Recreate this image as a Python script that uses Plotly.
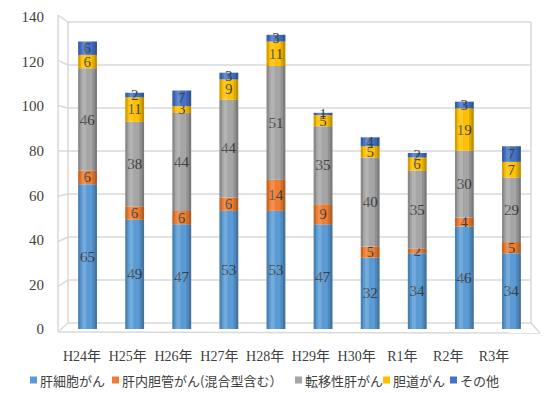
import plotly.graph_objects as go

years = ["H24年", "H25年", "H26年", "H27年", "H28年", "H29年", "H30年", "R1年", "R2年", "R3年"]
hcc = [65, 49, 47, 53, 53, 47, 32, 34, 46, 34]
icc = [6, 6, 6, 6, 14, 9, 5, 2, 4, 5]
meta = [46, 38, 44, 44, 51, 35, 40, 35, 30, 29]
biliary = [6, 11, 3, 9, 11, 5, 5, 6, 19, 7]
other = [6, 2, 7, 3, 3, 1, 4, 2, 3, 7]
y_ticks = [0, 20, 40, 60, 80, 100, 120, 140]

series_names = ["肝細胞がん", "肝内胆管がん(混合型含む）", "転移性肝がん", "胆道がん", "その他"]
series_values = [hcc, icc, meta, biliary, other]
series_colors = ["#5B9BD5", "#ED7D31", "#A5A5A5", "#FFC000", "#4472C4"]

W, H = 544, 393
L, R, T, B = 64, 9, 17, 64
PW, PH = W - L - R, H - T - B
BAR_W = 0.4

def px(x):
    return (x - L) / PW

def py(y):
    return (H - B - y) / PH

fig = go.Figure()
base = [0] * len(years)
for name, vals, col in zip(series_names, series_values, series_colors):
    fig.add_trace(go.Bar(
        x=years, y=vals, base=list(base), name=name,
        width=BAR_W, offset=-BAR_W / 2,
        marker=dict(color=col, line=dict(width=0)),
        text=vals, textposition="inside", insidetextanchor="middle",
        constraintext="none", textangle=0,
        textfont=dict(family="Liberation Serif, serif", size=15, color="#404040"),
        hoverinfo="skip", showlegend=False,
    ))
    base = [b + v for b, v in zip(base, vals)]
totals = base

# cylinder-like shading strips over each stack
for off, w, col in [(-BAR_W / 2, 0.05, "rgba(0,0,0,0.16)"),
                    (-BAR_W / 2 + 0.09, 0.08, "rgba(255,255,255,0.16)"),
                    (BAR_W / 2 - 0.1, 0.05, "rgba(0,0,0,0.12)"),
                    (BAR_W / 2 - 0.05, 0.05, "rgba(0,0,0,0.25)")]:
    fig.add_trace(go.Bar(x=years, y=totals, base=[0] * len(years), width=w, offset=off,
                         marker=dict(color=col, line=dict(width=0)),
                         hoverinfo="skip", showlegend=False))

# empty helper trace so the label axis exists
fig.add_trace(go.Scatter(x=[], y=[], xaxis="x2", yaxis="y", showlegend=False, hoverinfo="skip"))

# 3D-like frame (walls / gridlines)
shapes = []
lc = dict(color="#D9D9D9", width=1.5)
for v in y_ticks:
    yb = 323 - 2.15 * v
    yf = 332 - 2.264 * v
    shapes.append(dict(type="line", xref="paper", yref="paper",
                       x0=px(58), y0=py(yf), x1=px(68), y1=py(yb), line=lc, layer="below"))
    shapes.append(dict(type="line", xref="paper", yref="paper",
                       x0=px(68), y0=py(yb), x1=px(531), y1=py(yb), line=lc, layer="below"))
for (x0, y0, x1, y1) in [(58, 15, 58, 332), (68, 22, 68, 323), (531, 22, 531, 323),
                         (58, 332, 540, 333), (531, 323, 540, 333)]:
    shapes.append(dict(type="line", xref="paper", yref="paper",
                       x0=px(x0), y0=py(y0), x1=px(x1), y1=py(y1), line=lc, layer="below"))

# legend (squares + text), laid out like the reference
legend_text_x = [39, 121, 304, 392, 459]
legend_y = 380
annotations = []
for name, col, tx in zip(series_names, series_colors, legend_text_x):
    shapes.append(dict(type="rect", xref="paper", yref="paper",
                       x0=px(tx - 9), x1=px(tx - 2), y0=py(legend_y + 3.5), y1=py(legend_y - 3.5),
                       fillcolor=col, line=dict(width=0)))
    annotations.append(dict(text=name, xref="paper", yref="paper", x=px(tx), y=py(legend_y),
                            xanchor="left", yanchor="middle", showarrow=False, borderpad=0,
                            font=dict(family="Noto Sans CJK JP, sans-serif", size=13, color="#404040")))

n = len(years)
first_c, last_c = 82, 494
step = (last_c - first_c) / (n - 1)
r0 = -(first_c - L) / step
r1 = (n - 1) + (L + PW - last_c) / step

fig.update_layout(
    width=W, height=H,
    margin=dict(l=L, r=R, t=T, b=B, autoexpand=False),
    barmode="overlay",
    paper_bgcolor="white", plot_bgcolor="white",
    shapes=shapes, annotations=annotations,
    xaxis=dict(type="category", range=[-0.5, n - 0.5], showticklabels=False, automargin=False,
               showgrid=False, zeroline=False, showline=False, ticks=""),
    xaxis2=dict(type="linear", overlaying="x", anchor="y", side="bottom", automargin=False,
                range=[r0, r1], tickmode="array", tickvals=list(range(n)), ticktext=years,
                showgrid=False, zeroline=False, showline=False, ticks="",
                ticklabelstandoff=17,
                tickfont=dict(family="Liberation Serif, Noto Sans CJK JP, serif", size=14, color="#404040")),
    yaxis=dict(range=[0, 140], tickmode="array", tickvals=y_ticks, automargin=False,
               showgrid=False, zeroline=False, showline=False, ticks="",
               ticklabelstandoff=19,
               tickfont=dict(family="Liberation Serif, serif", size=15, color="#404040")),
    showlegend=False,
)

fig.write_html("out.html", post_script="document.body.style.margin='0px';",
               config={"displayModeBar": False})
